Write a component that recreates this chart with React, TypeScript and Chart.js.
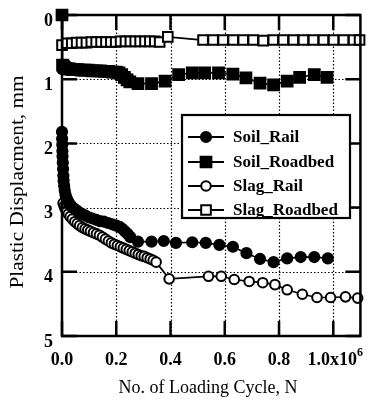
import { useEffect, useRef } from "react";
import { Chart, registerables } from "chart.js";

Chart.register(...registerables);

const xTicks = [0, 0.2, 0.4, 0.6, 0.8, 1.0];
const xTickLabels = ["0.0", "0.2", "0.4", "0.6", "0.8", "1.0x10"];
const xTickExponent = "6";
const yTicks = [0, 1, 2, 3, 4, 5];
const yTickLabels = ["0", "1", "2", "3", "4", "5"];
const xTitle = "No. of Loading Cycle, N";
const yTitle = "Plastic Displacment, mm";
const seriesNames = ["Soil_Rail", "Soil_Roadbed", "Slag_Rail", "Slag_Roadbed"];

const soilRailX = [0, 0.0005, 0.001, 0.0015, 0.002, 0.003, 0.004, 0.005, 0.006, 0.008, 0.01, 0.013, 0.017, 0.022, 0.028, 0.035, 0.043, 0.052, 0.062, 0.073, 0.085, 0.098, 0.112, 0.126, 0.14, 0.155, 0.17, 0.185, 0.2, 0.212, 0.222, 0.232, 0.242, 0.252, 0.28, 0.33, 0.375, 0.42, 0.48, 0.53, 0.58, 0.63, 0.68, 0.73, 0.78, 0.83, 0.88, 0.93, 0.98];
const soilRailY = [1.82, 1.93, 2.02, 2.12, 2.2, 2.3, 2.4, 2.5, 2.58, 2.66, 2.73, 2.8, 2.85, 2.9, 2.94, 2.98, 3.01, 3.04, 3.07, 3.1, 3.12, 3.15, 3.17, 3.19, 3.21, 3.22, 3.24, 3.26, 3.28, 3.3, 3.33, 3.37, 3.41, 3.46, 3.53, 3.53, 3.52, 3.55, 3.54, 3.55, 3.58, 3.61, 3.71, 3.8, 3.85, 3.79, 3.77, 3.77, 3.79];

const soilRoadbedX = [0, 0.002, 0.005, 0.009, 0.014, 0.02, 0.028, 0.037, 0.047, 0.058, 0.07, 0.083, 0.097, 0.112, 0.127, 0.142, 0.157, 0.172, 0.187, 0.2, 0.21, 0.22, 0.23, 0.24, 0.25, 0.28, 0.33, 0.38, 0.43, 0.48, 0.526, 0.577, 0.63, 0.678, 0.73, 0.78, 0.83, 0.876, 0.93, 0.977];
const soilRoadbedY = [0, 0.78, 0.8, 0.82, 0.83, 0.84, 0.84, 0.85, 0.85, 0.85, 0.86, 0.86, 0.86, 0.87, 0.87, 0.87, 0.88, 0.88, 0.89, 0.89, 0.9, 0.93, 0.97, 1.01, 1.04, 1.07, 1.07, 1.03, 0.93, 0.9, 0.9, 0.9, 0.92, 0.98, 1.06, 1.09, 1.03, 0.97, 0.93, 0.97];

const slagRailX = [0.004, 0.008, 0.012, 0.017, 0.023, 0.03, 0.038, 0.047, 0.056, 0.065, 0.075, 0.085, 0.095, 0.105, 0.116, 0.127, 0.138, 0.149, 0.16, 0.171, 0.182, 0.193, 0.204, 0.215, 0.226, 0.237, 0.248, 0.259, 0.27, 0.281, 0.292, 0.303, 0.314, 0.325, 0.336, 0.347, 0.395, 0.54, 0.587, 0.635, 0.69, 0.74, 0.785, 0.83, 0.886, 0.94, 0.99, 1.045, 1.09];
const slagRailY = [2.93, 2.98, 3.02, 3.06, 3.1, 3.14, 3.18, 3.22, 3.25, 3.28, 3.31, 3.33, 3.35, 3.37, 3.39, 3.41, 3.43, 3.46, 3.49, 3.52, 3.55, 3.57, 3.59, 3.61, 3.63, 3.65, 3.67, 3.69, 3.71, 3.73, 3.75, 3.76, 3.78, 3.8, 3.82, 3.85, 4.11, 4.07, 4.07, 4.12, 4.15, 4.17, 4.2, 4.28, 4.35, 4.4, 4.4, 4.39, 4.41];

const slagRoadbedX = [0, 0.018, 0.036, 0.054, 0.072, 0.09, 0.108, 0.126, 0.144, 0.162, 0.18, 0.198, 0.216, 0.234, 0.252, 0.27, 0.288, 0.306, 0.324, 0.342, 0.36, 0.39, 0.52, 0.557, 0.594, 0.631, 0.668, 0.705, 0.742, 0.779, 0.816, 0.853, 0.89, 0.927, 0.964, 1.001, 1.038, 1.075, 1.097];
const slagRoadbedY = [0.47, 0.44, 0.44, 0.43, 0.43, 0.43, 0.42, 0.42, 0.42, 0.42, 0.42, 0.42, 0.41, 0.41, 0.41, 0.41, 0.41, 0.41, 0.41, 0.41, 0.42, 0.34, 0.39, 0.39, 0.39, 0.39, 0.39, 0.39, 0.4, 0.39, 0.39, 0.39, 0.39, 0.39, 0.39, 0.39, 0.39, 0.39, 0.39];

const SERIF = '"Liberation Serif", "Times New Roman", serif';

type Style = { shape: "circle" | "rect"; filled: boolean; radius: number };
const styles: Style[] = [
  { shape: "circle", filled: true, radius: 5.1 },
  { shape: "rect", filled: true, radius: 7.6 },
  { shape: "circle", filled: false, radius: 4.8 },
  { shape: "rect", filled: false, radius: 6.8 },
];

function pts(xs: number[], ys: number[]) {
  return xs.map((x, i) => ({ x, y: ys[i] }));
}

function drawMarker(ctx: CanvasRenderingContext2D, s: Style, x: number, y: number) {
  ctx.save();
  ctx.beginPath();
  if (s.shape === "circle") {
    ctx.arc(x, y, s.radius, 0, Math.PI * 2);
  } else {
    const h = s.radius * Math.SQRT1_2;
    ctx.rect(x - h, y - h, 2 * h, 2 * h);
  }
  ctx.fillStyle = s.filled ? "#000" : "#fff";
  ctx.fill();
  ctx.lineWidth = 2;
  ctx.strokeStyle = "#000";
  ctx.stroke();
  ctx.restore();
}

const framePlugin = {
  id: "framePlugin",
  beforeDatasetsDraw(chart: any) {
    const { ctx, chartArea: a, scales } = chart;
    ctx.save();
    ctx.strokeStyle = "#000";
    ctx.lineWidth = 1.2;
    ctx.setLineDash([1.5, 2]);
    xTicks.forEach((v) => {
      if (v === 0) return;
      const px = Math.round(scales.x.getPixelForValue(v)) + 0.5;
      ctx.beginPath();
      ctx.moveTo(px, a.top);
      ctx.lineTo(px, a.bottom);
      ctx.stroke();
    });
    yTicks.forEach((v) => {
      if (v === 0 || v === 5) return;
      const py = Math.round(scales.y.getPixelForValue(v)) + 0.5;
      ctx.beginPath();
      ctx.moveTo(a.left, py);
      ctx.lineTo(a.right, py);
      ctx.stroke();
    });
    ctx.restore();
  },
  afterDatasetsDraw(chart: any) {
    const { ctx, chartArea: a, scales } = chart;
    ctx.save();
    ctx.strokeStyle = "#000";
    ctx.lineWidth = 2.5;
    ctx.strokeRect(a.left, a.top, a.right - a.left, a.bottom - a.top);
    const tl = 15;
    xTicks.forEach((v) => {
      const px = scales.x.getPixelForValue(v);
      ctx.beginPath();
      ctx.moveTo(px, a.bottom);
      ctx.lineTo(px, a.bottom - tl);
      ctx.moveTo(px, a.top);
      ctx.lineTo(px, a.top + tl);
      ctx.stroke();
    });
    yTicks.forEach((v) => {
      const py = scales.y.getPixelForValue(v);
      ctx.beginPath();
      ctx.moveTo(a.left, py);
      ctx.lineTo(a.left + tl, py);
      ctx.moveTo(a.right, py);
      ctx.lineTo(a.right - tl, py);
      ctx.stroke();
    });

    // tick labels
    ctx.fillStyle = "#000";
    ctx.font = `bold 18px ${SERIF}`;
    ctx.textBaseline = "middle";
    ctx.textAlign = "right";
    yTicks.forEach((v, i) => {
      const py = scales.y.getPixelForValue(v);
      ctx.fillText(yTickLabels[i], a.left - 9, py + 6);
    });
    xTicks.forEach((v, i) => {
      const px = scales.x.getPixelForValue(v);
      const label = xTickLabels[i];
      const ly = a.bottom + 24;
      if (i === xTicks.length - 1) {
        ctx.font = `bold 18px ${SERIF}`;
        const w = ctx.measureText(label).width;
        ctx.font = `bold 12px ${SERIF}`;
        const we = ctx.measureText(xTickExponent).width;
        const start = px + 2 - (w + we) / 2;
        ctx.textAlign = "left";
        ctx.font = `bold 18px ${SERIF}`;
        ctx.fillText(label, start, ly);
        ctx.font = `bold 12px ${SERIF}`;
        ctx.fillText(xTickExponent, start + w, ly - 7);
      } else {
        ctx.textAlign = "center";
        ctx.font = `bold 18px ${SERIF}`;
        ctx.fillText(label, px, ly);
      }
    });

    // axis titles
    ctx.font = `18px ${SERIF}`;
    ctx.textAlign = "center";
    ctx.textBaseline = "middle";
    ctx.fillText(xTitle, 208, 388);
    ctx.save();
    ctx.translate(18, 182);
    ctx.rotate(-Math.PI / 2);
    ctx.scale(1.18, 1);
    ctx.fillText(yTitle, 0, 0);
    ctx.restore();

    // legend
    const bx = 182, by = 115, bw = 168, bh = 103;
    ctx.fillStyle = "#fff";
    ctx.fillRect(bx, by, bw, bh);
    ctx.lineWidth = 2.2;
    ctx.strokeStyle = "#000";
    ctx.strokeRect(bx, by, bw, bh);
    const rows = [137, 162, 186, 210];
    seriesNames.forEach((name, i) => {
      const y = rows[i];
      ctx.lineWidth = 1.8;
      ctx.beginPath();
      ctx.moveTo(188, y);
      ctx.lineTo(224, y);
      ctx.stroke();
      drawMarker(ctx, styles[i], 206, y);
      ctx.fillStyle = "#000";
      ctx.font = `bold 17px ${SERIF}`;
      ctx.textAlign = "left";
      ctx.textBaseline = "middle";
      ctx.fillText(name, 233, y + 1);
    });
    ctx.restore();
  },
};

export default function App() {
  const ref = useRef<HTMLCanvasElement | null>(null);
  useEffect(() => {
    const canvas = ref.current;
    if (!canvas) return;
    const data = [
      pts(soilRailX, soilRailY),
      pts(soilRoadbedX, soilRoadbedY),
      pts(slagRailX, slagRailY),
      pts(slagRoadbedX, slagRoadbedY),
    ];
    const chart = new Chart(canvas, {
      type: "scatter",
      data: {
        datasets: seriesNames.map((name, i) => ({
          label: name,
          data: data[i],
          showLine: true,
          borderColor: "#000",
          borderWidth: 1.7,
          pointStyle: styles[i].shape,
          pointRadius: styles[i].radius,
          pointBackgroundColor: styles[i].filled ? "#000" : "#fff",
          pointBorderColor: "#000",
          pointBorderWidth: 2,
          clip: false as any,
        })),
      },
      options: {
        responsive: false,
        animation: false,
        devicePixelRatio: 1,
        layout: { padding: { left: 0, right: 3, top: 15, bottom: 0 } },
        plugins: { legend: { display: false }, tooltip: { enabled: false } },
        scales: {
          x: {
            type: "linear",
            min: 0,
            max: 1.1,
            grid: { display: false },
            border: { display: false },
            ticks: { display: false },
            afterFit: (s: any) => {
              s.height = 64;
            },
          },
          y: {
            type: "linear",
            min: 0,
            max: 5,
            reverse: true,
            grid: { display: false },
            border: { display: false },
            ticks: { display: false },
            afterFit: (s: any) => {
              s.width = 62;
            },
          },
        },
      },
      plugins: [framePlugin],
    });
    return () => chart.destroy();
  }, []);
  return (
    <div style={{ position: "absolute", left: 0, top: 0, width: 370, height: 400, background: "#fff" }}>
      <canvas ref={ref} width={370} height={400} style={{ display: "block" }} />
    </div>
  );
}
